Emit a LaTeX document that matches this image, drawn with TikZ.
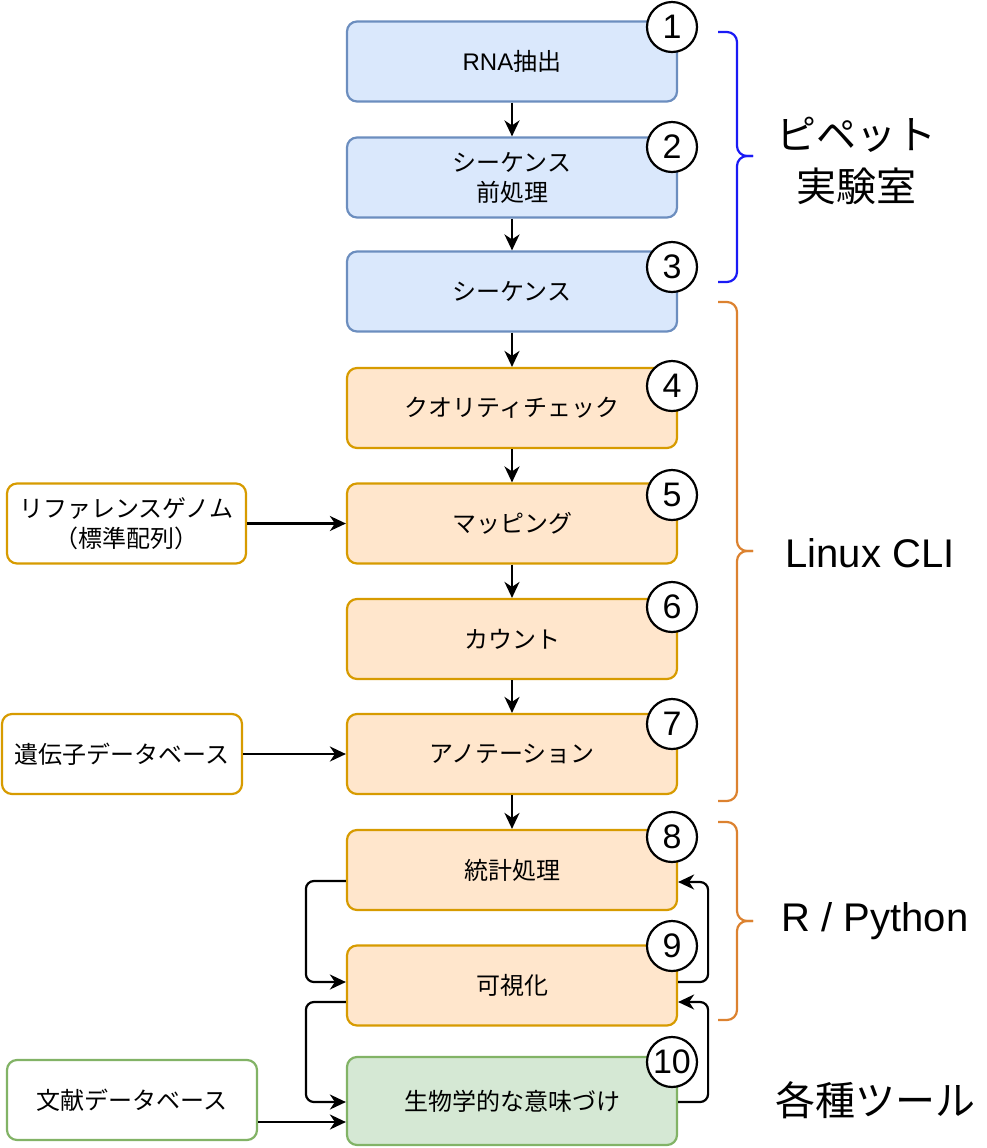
\documentclass[tikz,border=0pt]{standalone}
\usepackage{fontspec}
\setmainfont{Noto Sans CJK JP}
\newfontfamily\latin{Liberation Sans}
\usepackage{tikz}
\usetikzlibrary{arrows.meta,positioning,calc}
\definecolor{labfill}{HTML}{DAE8FC}
\definecolor{labline}{HTML}{6C8EBF}
\definecolor{clifill}{HTML}{FFE6CC}
\definecolor{cliline}{HTML}{D79B00}
\definecolor{toolfill}{HTML}{D5E8D4}
\definecolor{toolline}{HTML}{82B366}
\definecolor{bracelab}{HTML}{1A1AF5}
\definecolor{bracecli}{HTML}{DC8230}
\tikzset{
  stage/.style={draw, rounded corners=5pt, line width=1.1pt, align=center, minimum width=165pt, minimum height=40pt, inner sep=2pt, font=\fontsize{12}{15}\selectfont},
  lab/.style={stage, fill=labfill, draw=labline},
  cli/.style={stage, fill=clifill, draw=cliline},
  tool/.style={stage, fill=toolfill, draw=toolline},
  source/.style={stage, fill=white, minimum width=120pt},
  num/.style={circle, draw, fill=white, line width=1.1pt, minimum size=25pt, inner sep=0pt, font=\latin\fontsize{17}{17}\selectfont},
  group/.style={align=center, font=\fontsize{20}{26}\selectfont},
  flow/.style={-{Stealth[length=8pt,width=7.5pt,inset=2.5pt]}, line width=1.1pt},
  loop/.style={flow, rounded corners=4pt},
  bracket/.style={line width=1.1pt, rounded corners=5pt},
}
% curly bracket: top y, bottom y, tip y, colour
\newcommand{\bracket}[4]{%
  \draw[bracket, draw=#4] (718,#1) -| (737,#3) -- (753,#3);
  \draw[bracket, draw=#4] (718,#2) -| (737,#3) -- (753,#3);
}

\begin{document}
\begin{tikzpicture}[x=0.5pt,y=-0.5pt]
  \useasboundingbox (0,0) rectangle (987,1148);

  % main pipeline
  \node[lab]  (s1)  at (512,61.5)  {{\latin RNA}抽出};
  \node[lab]  (s2)  at (512,177.5) {シーケンス\\前処理};
  \node[lab]  (s3)  at (512,291.5) {シーケンス};
  \node[cli]  (s4)  at (512,408)   {クオリティチェック};
  \node[cli]  (s5)  at (512,523.5) {マッピング};
  \node[cli]  (s6)  at (512,639)   {カウント};
  \node[cli]  (s7)  at (512,754)   {アノテーション};
  \node[cli]  (s8)  at (512,870)   {統計処理};
  \node[cli]  (s9)  at (512,985.5) {可視化};
  \node[tool, minimum height=44pt] (s10) at (512,1101) {生物学的な意味づけ};

  % inputs
  \node[source, draw=cliline, minimum width=119.5pt] (ref) at (126.5,523.5) {リファレンスゲノム\\（標準配列）};
  \node[source, draw=cliline] (genes) at (122,754) {遺伝子データベース};
  \node[source, draw=toolline, minimum width=125pt] (lit) at (132,1100) {文献データベース};

  \foreach \i/\y in {1/27, 2/147, 3/267, 4/386, 5/495, 6/607, 7/724, 8/837, 9/946, 10/1062}
    \node[num] (n\i) at (672,\y) {\i};

  \foreach \a/\b in {s1/s2, s2/s3, s3/s4, s4/s5, s5/s6, s6/s7, s7/s8}
    \draw[flow] (\a) -- (\b);
  \draw[flow] (ref) -- (ref -| s5.west);
  \draw[flow] (genes) -- (genes -| s7.west);
  \coordinate (litout) at (lit.east |- 0,1122);
  \draw[flow] (litout) -- (litout -| s10.west);

  % iteration loops
  \draw[loop] (s8.west |- 0,881) -- ++(-40,0) |- (s9.west |- 0,982);
  \draw[loop] (s9.east |- 0,982) -- ++(30,0) |- (s8.east |- 0,882);
  \draw[loop] (s9.west |- 0,1002) -- ++(-40,0) |- (s10.west |- 0,1102);
  \draw[loop] (s10.east |- 0,1102) -- ++(30,0) |- (s9.east |- 0,1002);

  % groups
  \bracket{32}{282}{156}{bracelab}
  \bracket{302}{801}{551}{bracecli}
  \bracket{822}{1020}{921}{bracecli}
  \node[group] (wet) at (856,161) {ピペット\\実験室};
  \node[group, font=\latin\fontsize{20}{26}\selectfont] (linux) at (870,553) {Linux CLI};
  \node[group, font=\latin\fontsize{20}{26}\selectfont] (rpy) at (875,921) {R / Python};
  \node[group] (misc) at (875,1100) {各種ツール};
\end{tikzpicture}
\end{document}
